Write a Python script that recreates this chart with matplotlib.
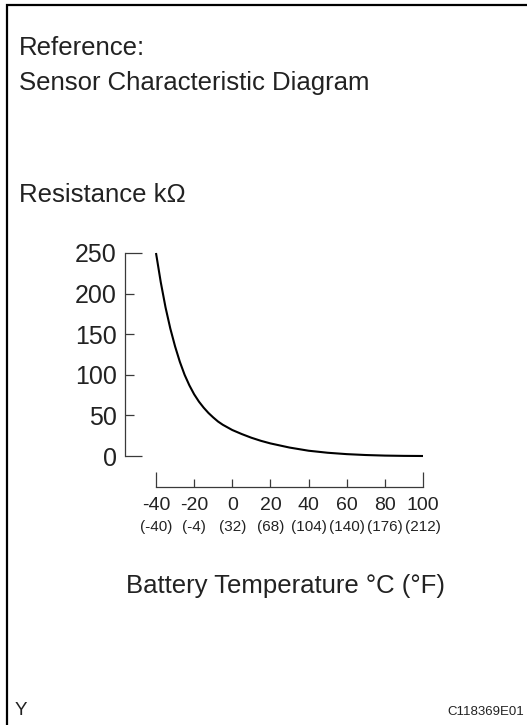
import matplotlib.pyplot as plt
from matplotlib import transforms
from matplotlib.lines import Line2D

plt.rcParams['font.family'] = ['Liberation Sans', 'DejaVu Sans']

# Thermistor resistance (kOhm) against battery temperature (deg C)
temp_c = [-40, -37.5, -35, -32.5, -30, -27.5, -25, -22.5, -20, -17.5, -15,
          -12.5, -10, -7.5, -5, 0, 5, 10, 15, 20, 30, 40, 50, 60, 70, 80,
          90, 100]
resistance = [250, 214, 183, 157, 135, 116, 100, 87, 76, 67, 59.5,
              53, 47.5, 42.5, 38.5, 32, 27, 22.5, 18.7, 15.5, 10.4, 6.5,
              4.0, 2.3, 1.2, 0.5, 0.15, 0.0]

c_ticks = [-40, -20, 0, 20, 40, 60, 80, 100]
f_labels = ['(-40)', '(-4)', '(32)', '(68)', '(104)', '(140)', '(176)', '(212)']
r_ticks = [0, 50, 100, 150, 200, 250]

W, H = 527, 725
ink = '#222222'
axis_col = '#3a3a3a'

fig = plt.figure(figsize=(W / 100, H / 100), dpi=100)


def px(x, y):
    return x / W, 1 - y / H


# frame lines on the left and top edge
fig.add_artist(Line2D([7 / W, 7 / W, 1], [0, 1 - 5 / H, 1 - 5 / H],
                      transform=fig.transFigure, color='black', lw=1.6,
                      solid_joinstyle='miter'))

fig.text(*px(19, 55), 'Reference:', fontsize=18.5, color=ink, va='baseline')
fig.text(*px(19, 90), 'Sensor Characteristic Diagram', fontsize=18.5,
         color=ink, va='baseline')
fig.text(*px(19, 202), 'Resistance k\u03a9', fontsize=18.5, color=ink,
         va='baseline')

ax = fig.add_axes([156 / W, 1 - 456 / H, 267 / W, 203 / H])
ax.plot(temp_c, resistance, color='black', lw=1.5, clip_on=False,
        solid_capstyle='butt', solid_joinstyle='round')
ax.set_xlim(-40, 100)
ax.set_ylim(0, 250)

for s in ('top', 'right'):
    ax.spines[s].set_visible(False)
ax.spines['left'].set_position(('outward', 22.3))
ax.spines['bottom'].set_position(('outward', 22.3))
ax.spines['left'].set_bounds(0, 250)
ax.spines['bottom'].set_bounds(-40, 100)
for s in ('left', 'bottom'):
    ax.spines[s].set_color(axis_col)
    ax.spines[s].set_linewidth(0.9)

# end ticks long, inner ticks short
ax.set_yticks([r_ticks[0], r_ticks[-1]])
ax.set_yticks(r_ticks[1:-1], minor=True)
ax.set_yticklabels([r_ticks[0], r_ticks[-1]])
ax.set_yticklabels(r_ticks[1:-1], minor=True)
ax.set_xticks([c_ticks[0], c_ticks[-1]])
ax.set_xticks(c_ticks[1:-1], minor=True)
ax.set_xticklabels([c_ticks[0], c_ticks[-1]])
ax.set_xticklabels(c_ticks[1:-1], minor=True)

ax.tick_params(axis='y', which='both', direction='in', colors=axis_col,
               labelcolor=ink, labelsize=18, width=0.9, pad=6)
ax.tick_params(axis='y', which='major', length=12)
ax.tick_params(axis='y', which='minor', length=6.5)
ax.tick_params(axis='x', which='both', direction='in', colors=axis_col,
               labelcolor=ink, labelsize=14, width=0.9, pad=7)
ax.tick_params(axis='x', which='major', length=11)
ax.tick_params(axis='x', which='minor', length=6)

# Fahrenheit values under the Celsius labels
trans = transforms.blended_transform_factory(ax.transData, fig.transFigure)
for c, f in zip(c_ticks, f_labels):
    ax.text(c, 1 - 531 / H, f, transform=trans, ha='center', va='baseline',
            fontsize=11, color=ink)

fig.text(*px(285, 593), 'Battery Temperature \u00b0C (\u00b0F)',
         fontsize=18.5, color=ink, ha='center', va='baseline')

fig.text(*px(15, 715), 'Y', fontsize=13.5, color=ink, va='baseline')
fig.text(*px(524, 715), 'C118369E01', fontsize=9.5, color=ink,
         ha='right', va='baseline')

fig.savefig('out.png', dpi=100)
